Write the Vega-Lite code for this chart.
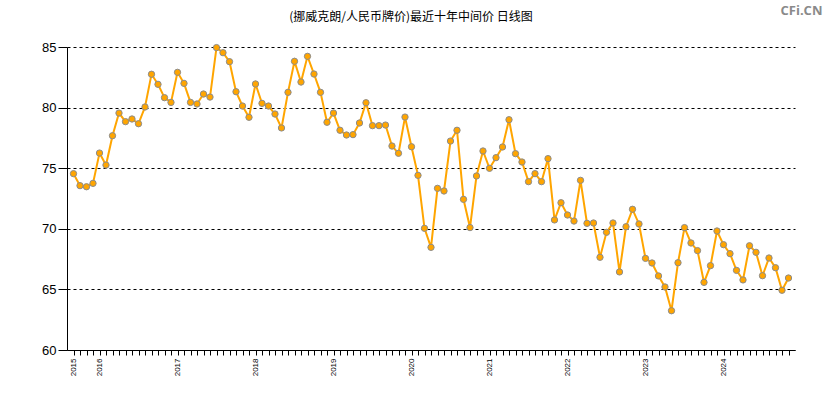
{
 "$schema": "https://vega.github.io/schema/vega-lite/v6.json",
 "width": 728,
 "height": 303,
 "autosize": {"type": "none"},
 "padding": {"left": 67, "top": 47, "right": 30, "bottom": 50},
 "background": "white",
 "title": {"text": "(挪威克朗/人民币牌价)最近十年中间价 日线图", "font": "Noto Sans CJK SC", "fontSize": 12, "fontWeight": "normal", "color": "#000000", "anchor": "middle", "dx": -20, "offset": -19},
 "config": {"view": {"stroke": null}},
 "datasets": {"fx": [
  {"m":"2015-09","v":74.55},{"m":"2015-10","v":73.56},{"m":"2015-11","v":73.47},{"m":"2015-12","v":73.75},
  {"m":"2016-01","v":76.25},{"m":"2016-02","v":75.26},{"m":"2016-03","v":77.68},{"m":"2016-04","v":79.55},{"m":"2016-05","v":78.84},{"m":"2016-06","v":79.06},{"m":"2016-07","v":78.67},{"m":"2016-08","v":80.05},{"m":"2016-09","v":82.75},{"m":"2016-10","v":81.92},{"m":"2016-11","v":80.82},{"m":"2016-12","v":80.43},
  {"m":"2017-01","v":82.91},{"m":"2017-02","v":82.00},{"m":"2017-03","v":80.43},{"m":"2017-04","v":80.30},{"m":"2017-05","v":81.12},{"m":"2017-06","v":80.87},{"m":"2017-07","v":84.95},{"m":"2017-08","v":84.53},{"m":"2017-09","v":83.79},{"m":"2017-10","v":81.31},{"m":"2017-11","v":80.13},{"m":"2017-12","v":79.20},
  {"m":"2018-01","v":81.95},{"m":"2018-02","v":80.35},{"m":"2018-03","v":80.13},{"m":"2018-04","v":79.47},{"m":"2018-05","v":78.32},{"m":"2018-06","v":81.26},{"m":"2018-07","v":83.82},{"m":"2018-08","v":82.11},{"m":"2018-09","v":84.23},{"m":"2018-10","v":82.77},{"m":"2018-11","v":81.26},{"m":"2018-12","v":78.79},
  {"m":"2019-01","v":79.55},{"m":"2019-02","v":78.13},{"m":"2019-03","v":77.74},{"m":"2019-04","v":77.77},{"m":"2019-05","v":78.73},{"m":"2019-06","v":80.40},{"m":"2019-07","v":78.51},{"m":"2019-08","v":78.51},{"m":"2019-09","v":78.56},{"m":"2019-10","v":76.83},{"m":"2019-11","v":76.23},{"m":"2019-12","v":79.22},
  {"m":"2020-01","v":76.77},{"m":"2020-02","v":74.41},{"m":"2020-03","v":70.04},{"m":"2020-04","v":68.47},{"m":"2020-05","v":73.34},{"m":"2020-06","v":73.12},{"m":"2020-07","v":77.24},{"m":"2020-08","v":78.13},{"m":"2020-09","v":72.43},{"m":"2020-10","v":70.10},{"m":"2020-11","v":74.36},{"m":"2020-12","v":76.42},
  {"m":"2021-01","v":74.99},{"m":"2021-02","v":75.87},{"m":"2021-03","v":76.75},{"m":"2021-04","v":79.00},{"m":"2021-05","v":76.20},{"m":"2021-06","v":75.51},{"m":"2021-07","v":73.89},{"m":"2021-08","v":74.55},{"m":"2021-09","v":73.89},{"m":"2021-10","v":75.79},{"m":"2021-11","v":70.73},{"m":"2021-12","v":72.15},
  {"m":"2022-01","v":71.14},{"m":"2022-02","v":70.64},{"m":"2022-03","v":74.00},{"m":"2022-04","v":70.45},{"m":"2022-05","v":70.48},{"m":"2022-06","v":67.65},{"m":"2022-07","v":69.71},{"m":"2022-08","v":70.48},{"m":"2022-09","v":66.44},{"m":"2022-10","v":70.17},{"m":"2022-11","v":71.61},{"m":"2022-12","v":70.40},
  {"m":"2023-01","v":67.56},{"m":"2023-02","v":67.18},{"m":"2023-03","v":66.11},{"m":"2023-04","v":65.20},{"m":"2023-05","v":63.24},{"m":"2023-06","v":67.20},{"m":"2023-07","v":70.10},{"m":"2023-08","v":68.83},{"m":"2023-09","v":68.20},{"m":"2023-10","v":65.58},{"m":"2023-11","v":66.96},{"m":"2023-12","v":69.82},
  {"m":"2024-01","v":68.69},{"m":"2024-02","v":67.95},{"m":"2024-03","v":66.57},{"m":"2024-04","v":65.78},{"m":"2024-05","v":68.60},{"m":"2024-06","v":68.06},{"m":"2024-07","v":66.13},{"m":"2024-08","v":67.59},{"m":"2024-09","v":66.79},{"m":"2024-10","v":64.93},{"m":"2024-11","v":65.94}
 ],
 "wm": [{"m": "2024-11", "v": 88, "label": "CFi.CN"}]},
 "layer": [
  {"data": {"name": "fx"},
   "encoding": {
    "x": {"field": "m", "type": "ordinal", "scale": {"type": "point", "padding": 1},
     "axis": {"title": null, "labelAngle": -90, "labelFont": "Liberation Sans", "labelFontSize": 8, "labelColor": "#000000", "labelOverlap": false, "labelPadding": 3, "labelExpr": "(slice(datum.value,5)=='01' || datum.value=='2015-09') ? slice(datum.value,0,4) : ''", "domainColor": "#000000", "tickColor": "#000000", "tickSize": 5, "grid": false}},
    "y": {"field": "v", "type": "quantitative", "scale": {"domain": [60, 85], "nice": false, "zero": false},
     "axis": {"title": null, "values": [60, 65, 70, 75, 80, 85], "labelFont": "Liberation Sans", "labelFontSize": 13, "labelColor": "#000000", "labelPadding": 2, "domainColor": "#000000", "tickColor": "#000000", "tickSize": 9, "grid": true, "gridColor": "#000000", "gridDash": [3, 3], "gridWidth": 1, "gridOpacity": 1}}
   },
   "layer": [
    {"mark": {"type": "line", "color": "#FFA500", "strokeWidth": 2}},
    {"mark": {"type": "point", "filled": true, "fill": "#FFA500", "stroke": "#8c8c8c", "strokeWidth": 1, "size": 40, "opacity": 1}}
   ]},
  {"data": {"name": "wm"},
   "mark": {"type": "text", "font": "Open Sans", "fontWeight": "bold", "fontSize": 13, "color": "#8a8a8a", "align": "center", "baseline": "middle", "dx": 13, "clip": false},
   "encoding": {"x": {"field": "m", "type": "ordinal"}, "y": {"field": "v", "type": "quantitative"}, "text": {"field": "label"}}}
 ]
}
